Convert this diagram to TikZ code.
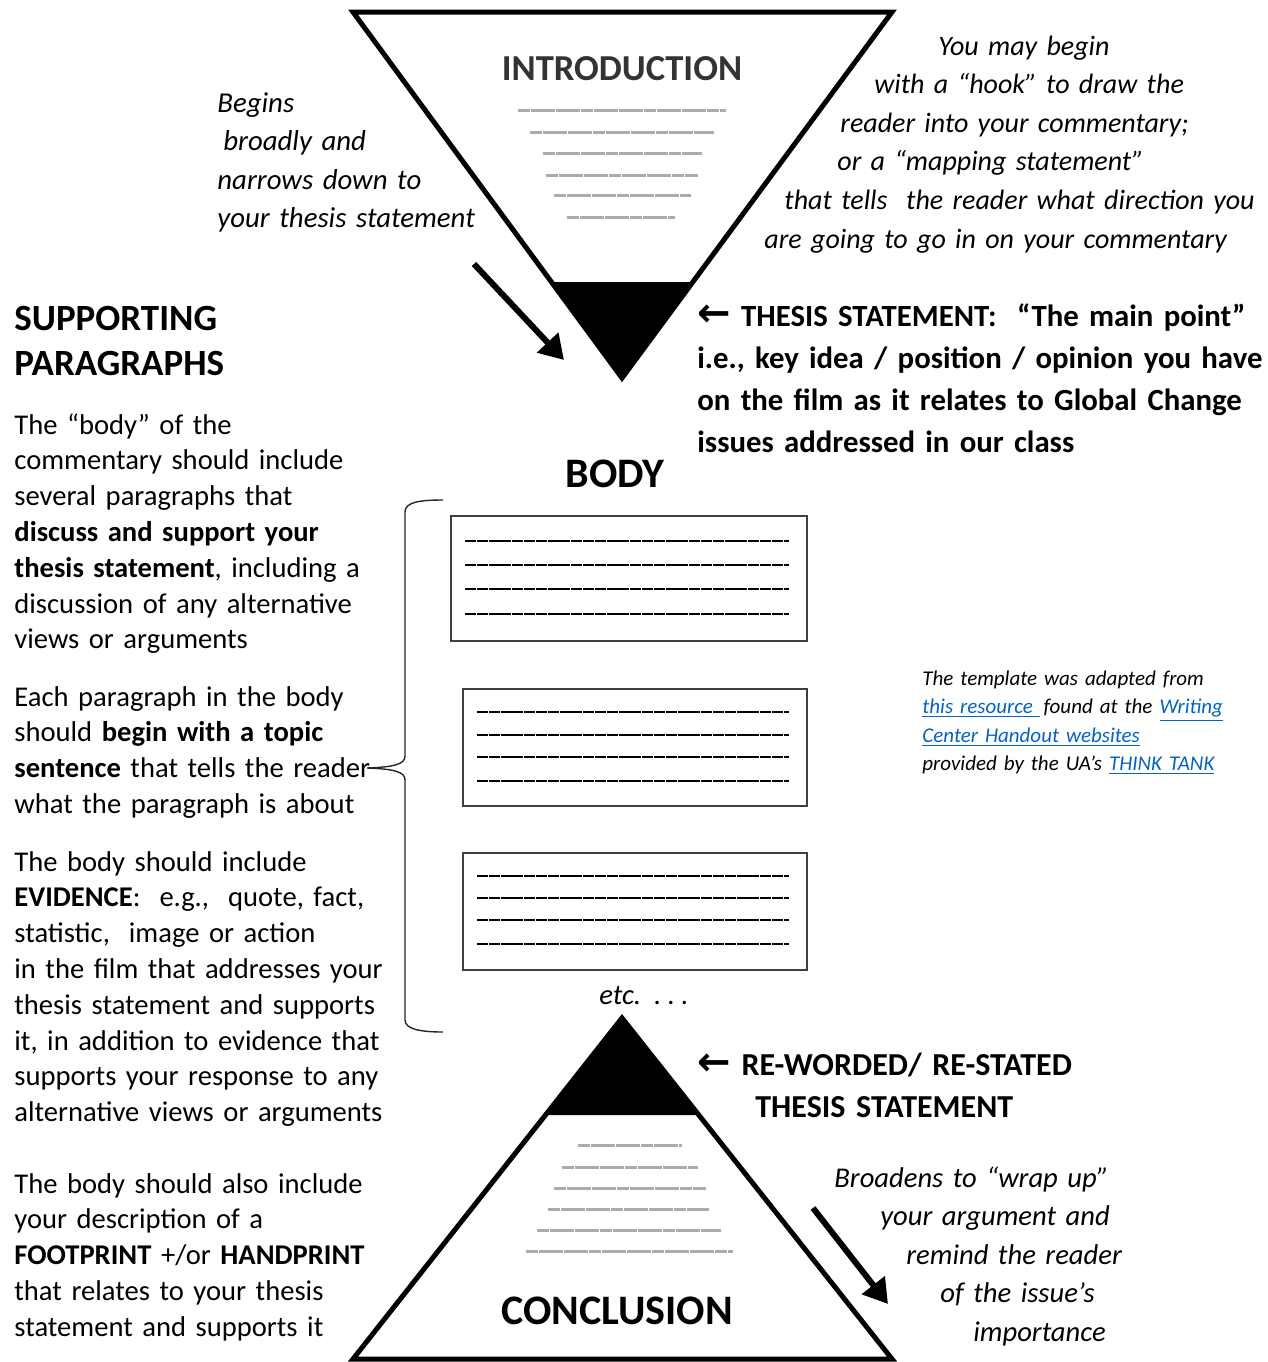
\documentclass[tikz,border=0pt]{standalone}
\usepackage{fontspec}
\setmainfont{Carlito}
\newfontfamily\arrowfont{DejaVu Sans}
\usetikzlibrary{arrows.meta,calc}
\definecolor{linkblue}{HTML}{0563C1}
\newcommand\weblink[1]{\textcolor{linkblue}{\underline{#1}}}
\newcommand\leftarr{{\fontsize{20}{20}\arrowfont\bfseries ←}}

\begin{document}
\frenchspacing
\begin{tikzpicture}[x=0.5pt, y=-0.5pt,
        txt/.style = {anchor=base west, inner sep=0, align=left, text width=200pt,
                      font=\fontsize{14.3}{17.9}\selectfont},
        note/.style = {anchor=base west, inner sep=0, align=left, text width=260pt,
                       font=\fontsize{14.3}{19.3}\selectfont\itshape},
        big/.style = {anchor=base, inner sep=0, font=\fontsize{21}{25}\selectfont\bfseries},
        thesis/.style = {anchor=base west, inner sep=0, align=left, text width=300pt,
                         font=\fontsize{15.4}{21}\selectfont\bfseries},
        tri/.style = {line width=2.5pt, line join=miter},
        gline/.style = {black!33, line width=1.5pt, dash pattern=on 6pt off 0.3pt},
        bline/.style = {line width=1.1pt, dash pattern=on 5.5pt off 0.4pt},
        box/.style = {draw=black!75, line width=1pt},
        bigarrow/.style = {line width=3pt, -{Triangle[length=12pt,width=14pt]}},
        ]
\useasboundingbox (0,0) rectangle (1268,1362);

% introduction funnel
\coordinate (it1) at (353,12);
\coordinate (it2) at (892,12);
\coordinate (it3) at (622,378);
\fill ($(it1)!0.7377!(it3)$) -- ($(it2)!0.7377!(it3)$) -- (it3) -- cycle;
\draw[tri] (it1) -- (it2) -- (it3) -- cycle;
\node[big, font=\fontsize{18.3}{22}\selectfont\bfseries, text=black!80] (intro) at (622,80) {INTRODUCTION};
\foreach \y/\a/\b in {110/518/726, 132/530/714, 153/543/702, 175/546/698, 195/554/691, 217/567/675}
    \draw[gline] (\a,\y) -- (\b,\y);

\node[note, text width=160pt, font=\fontsize{14.4}{19.25}\selectfont\itshape] (begins) at (217,112)
    {Begins\\\hspace*{3pt}broadly and\\narrows down to\\your thesis statement};
\coordinate (a1s) at (474,264);
\coordinate (a1e) at (564,360);
\draw[bigarrow] (a1s) -- (a1e);

\node[note, font=\fontsize{14}{19.3}\selectfont\itshape] (hook) at (764,55)
    {\hspace*{87pt}You may begin\\
     \hspace*{55pt}with a “hook” to draw the\\
     \hspace*{38pt}reader into your commentary;\\
     \hspace*{36.5pt}or a “mapping statement”\\
     \hspace*{10pt}that tells\ \ the reader what direction you\\
     are going to go in on your commentary};

% thesis statement
\node[thesis] (thesis) at (697,326)
    {\leftarr\ THESIS STATEMENT:\ \ “The main point”\\
     i.e., key idea / position / opinion you have\\
     on the film as it relates to Global Change\\
     issues addressed in our class};

% left column
\node[txt, font=\fontsize{18.5}{22.5}\selectfont\bfseries] (supp) at (14,330)
    {SUPPORTING\\PARAGRAPHS};
\node[txt] (p1) at (14,434)
    {The “body” of the\\commentary should include\\several paragraphs that\\
     \textbf{discuss and support your}\\\textbf{thesis statement}, including a\\
     discussion of any alternative\\views or arguments};
\node[txt] (p2) at (14,706)
    {Each paragraph in the body\\should \textbf{begin with a topic}\\
     \textbf{sentence} that tells the reader\\what the paragraph is about};
\node[txt] (p3) at (14,871)
    {The body should include\\\textbf{EVIDENCE}:\ \ e.g.,\ \ quote, fact,\\
     statistic,\ \ image or action\\in the film that addresses your\\
     thesis statement and supports\\it, in addition to evidence that\\
     supports your response to any\\alternative views or arguments};
\node[txt] (p4) at (14,1193)
    {The body should also include\\your description of a\\
     \textbf{FOOTPRINT} +/or \textbf{HANDPRINT}\\that relates to your thesis\\
     statement and supports it};

% brace
\coordinate (bt) at (443,500);
\coordinate (bb) at (443,1032);
\coordinate (btip) at (367,768);
\draw[black!85, line width=0.7pt] (bt) .. controls (420,500) and (405,502) .. (405,512)
    -- (405,756) .. controls (405,764) and (395,767) .. (btip)
    .. controls (395,769) and (405,772) .. (405,780)
    -- (405,1020) .. controls (405,1029) and (420,1032) .. (bb);

% body
\node[big] (body) at (615,487) {BODY};
\draw[box] (451,516) rectangle (807,641);
\foreach \y in {541,565,589,614}
    \draw[bline] (465,\y) -- (789,\y);
\draw[box] (463,689) rectangle (807,806);
\foreach \y in {712,735,757,781}
    \draw[bline] (477,\y) -- (789,\y);
\draw[box] (463,853) rectangle (807,970);
\foreach \y in {876,898,920,944}
    \draw[bline] (477,\y) -- (789,\y);
\node[note, anchor=base, text width=] (etc) at (644,1004) {etc.\ \ . . .};

\node[anchor=base west, inner sep=0, align=left, text width=170pt,
      font=\fontsize{10.5}{14.25}\selectfont\itshape] (credit) at (922,685)
    {The template was adapted from\\
     \weblink{this resource\ }\,found at the \weblink{Writing}\\
     \weblink{Center Handout websites}\\
     provided by the UA’s \weblink{THINK TANK}};

% conclusion pyramid
\coordinate (ct1) at (622,1018);
\coordinate (ct2) at (892,1359);
\coordinate (ct3) at (353,1359);
\fill (ct1) -- ($(ct1)!0.2845!(ct2)$) -- ($(ct1)!0.2845!(ct3)$) -- cycle;
\draw[tri] (ct1) -- (ct2) -- (ct3) -- cycle;
\foreach \y/\a/\b in {1145/578/682, 1167/562/698, 1188/554/706, 1209/548/709, 1230/537/721, 1251/526/733}
    \draw[gline] (\a,\y) -- (\b,\y);
\node[big] (concl) at (617,1324) {CONCLUSION};

\node[thesis, font=\fontsize{16}{21}\selectfont\bfseries] (restate) at (697,1075)
    {\leftarr\ RE-WORDED/ RE-STATED\\\hspace*{29pt}THESIS STATEMENT};

\node[note] (wrap) at (834,1187)
    {Broadens to “wrap up”\\
     \hspace*{23pt}your argument and\\
     \hspace*{36pt}remind the reader\\
     \hspace*{53pt}of the issue’s\\
     \hspace*{69.5pt}importance};
\coordinate (a2s) at (813,1208);
\coordinate (a2e) at (888,1304);
\draw[bigarrow] (a2s) -- (a2e);
\end{tikzpicture}
\end{document}
